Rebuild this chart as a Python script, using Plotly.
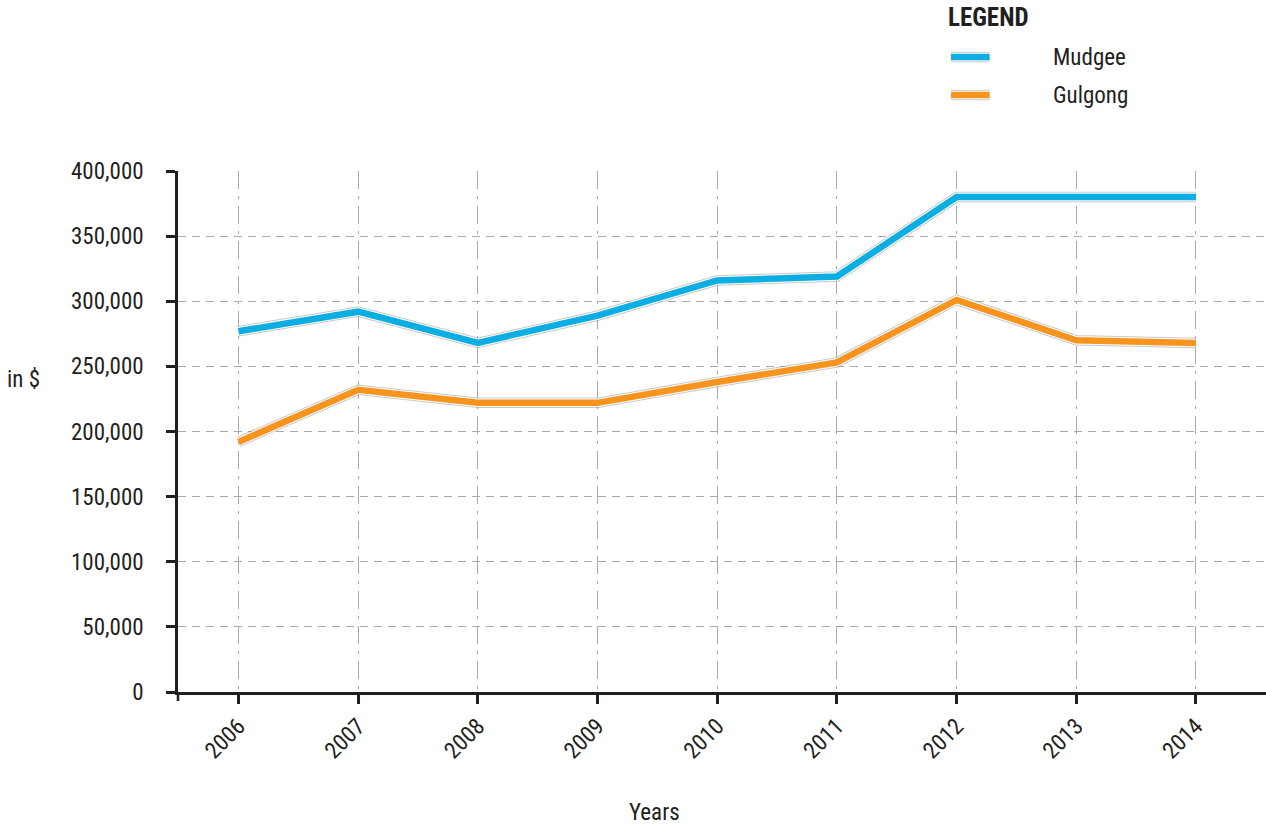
import plotly.graph_objects as go

years = [2006, 2007, 2008, 2009, 2010, 2011, 2012, 2013, 2014]
mudgee = [277000, 292000, 268000, 289000, 316000, 319000, 380000, 380000, 380000]
gulgong = [192000, 232000, 222000, 222000, 238000, 253000, 301000, 270000, 268000]
series_names = ["Mudgee", "Gulgong"]
series_colors = ["#0aaee3", "#f7941d"]
y_ticks = [0, 50000, 100000, 150000, 200000, 250000, 300000, 350000, 400000]

FONT = "Liberation Sans Narrow, Roboto Condensed, Arial Narrow, DejaVu Sans Condensed, sans-serif"
TXT = "#231f20"

fig = go.Figure()

for name, vals, col in zip(series_names, [mudgee, gulgong], series_colors):
    # soft grey halo, thin white rim, then the coloured line
    fig.add_trace(go.Scatter(x=years, y=vals, mode="lines", showlegend=False, hoverinfo="skip",
                             line=dict(color="rgba(120,120,120,0.4)", width=10.5)))
    fig.add_trace(go.Scatter(x=years, y=vals, mode="lines", showlegend=False, hoverinfo="skip",
                             line=dict(color="white", width=8.5)))
    fig.add_trace(go.Scatter(x=years, y=vals, mode="lines", name=name, showlegend=False,
                             line=dict(color=col, width=6.5)))

fig.update_xaxes(
    range=[2005.495, 2014.585],
    tickvals=years, ticktext=[str(y) for y in years],
    tickangle=-45,
    showline=True, linecolor=TXT, linewidth=2.5,
    ticks="outside", ticklen=9, tickwidth=2.5, tickcolor=TXT,
    showgrid=True, gridcolor="#a7a9ac", gridwidth=1.3, griddash="18px,7px,3px,7px",
    zeroline=False,
    tickfont=dict(family=FONT, size=23, color=TXT),
)
fig.update_yaxes(
    range=[0, 400000],
    tickvals=y_ticks, ticktext=[f"{v:,}" for v in y_ticks],
    showline=True, linecolor=TXT, linewidth=2.5,
    ticks="outside", ticklen=9, tickwidth=2.5, tickcolor=TXT,
    showgrid=True, gridcolor="#a7a9ac", gridwidth=1.3, griddash="8px,6px",
    zeroline=False,
    ticklabelstandoff=18,
    tickfont=dict(family=FONT, size=23, color=TXT),
)

# extra tick at the bottom-left corner of the axes
fig.add_shape(type="line", xref="paper", yref="paper", x0=0, x1=0, y0=0, y1=-9,
              ysizemode="pixel", yanchor=0, line=dict(color=TXT, width=2.5))

# axis titles
fig.add_annotation(text="in $", xref="paper", yref="paper", x=-0.159, y=0.6, xanchor="left",
                   showarrow=False, font=dict(family=FONT, size=23, color=TXT))
fig.add_annotation(text="Years", xref="paper", yref="paper", x=0.438, y=-0.231, xanchor="center",
                   yanchor="middle", showarrow=False, font=dict(family=FONT, size=23, color=TXT))

# legend block
fig.add_annotation(text="<b>LEGEND</b>", xref="paper", yref="paper", x=0.706, y=1.295,
                   xanchor="left", yanchor="middle", showarrow=False,
                   font=dict(family=FONT, size=25, color=TXT))
for i, (name, col) in enumerate(zip(series_names, series_colors)):
    ly = 1.219 - i * 0.073
    for w, c in [(10.5, "rgba(120,120,120,0.4)"), (8.5, "white"), (6.5, col)]:
        fig.add_shape(type="line", xref="paper", yref="paper", x0=0.7105, x1=0.746, y0=ly, y1=ly,
                      line=dict(color=c, width=w))
    fig.add_annotation(text=name, xref="paper", yref="paper", x=0.8025, y=ly - 0.002, xanchor="left",
                       yanchor="middle", showarrow=False,
                       font=dict(family=FONT, size=23, color=TXT))

fig.update_layout(
    width=1266, height=829,
    margin=dict(l=178, r=0, t=171, b=137),
    plot_bgcolor="white", paper_bgcolor="white",
    showlegend=False,
)

fig.write_html("out.html")
